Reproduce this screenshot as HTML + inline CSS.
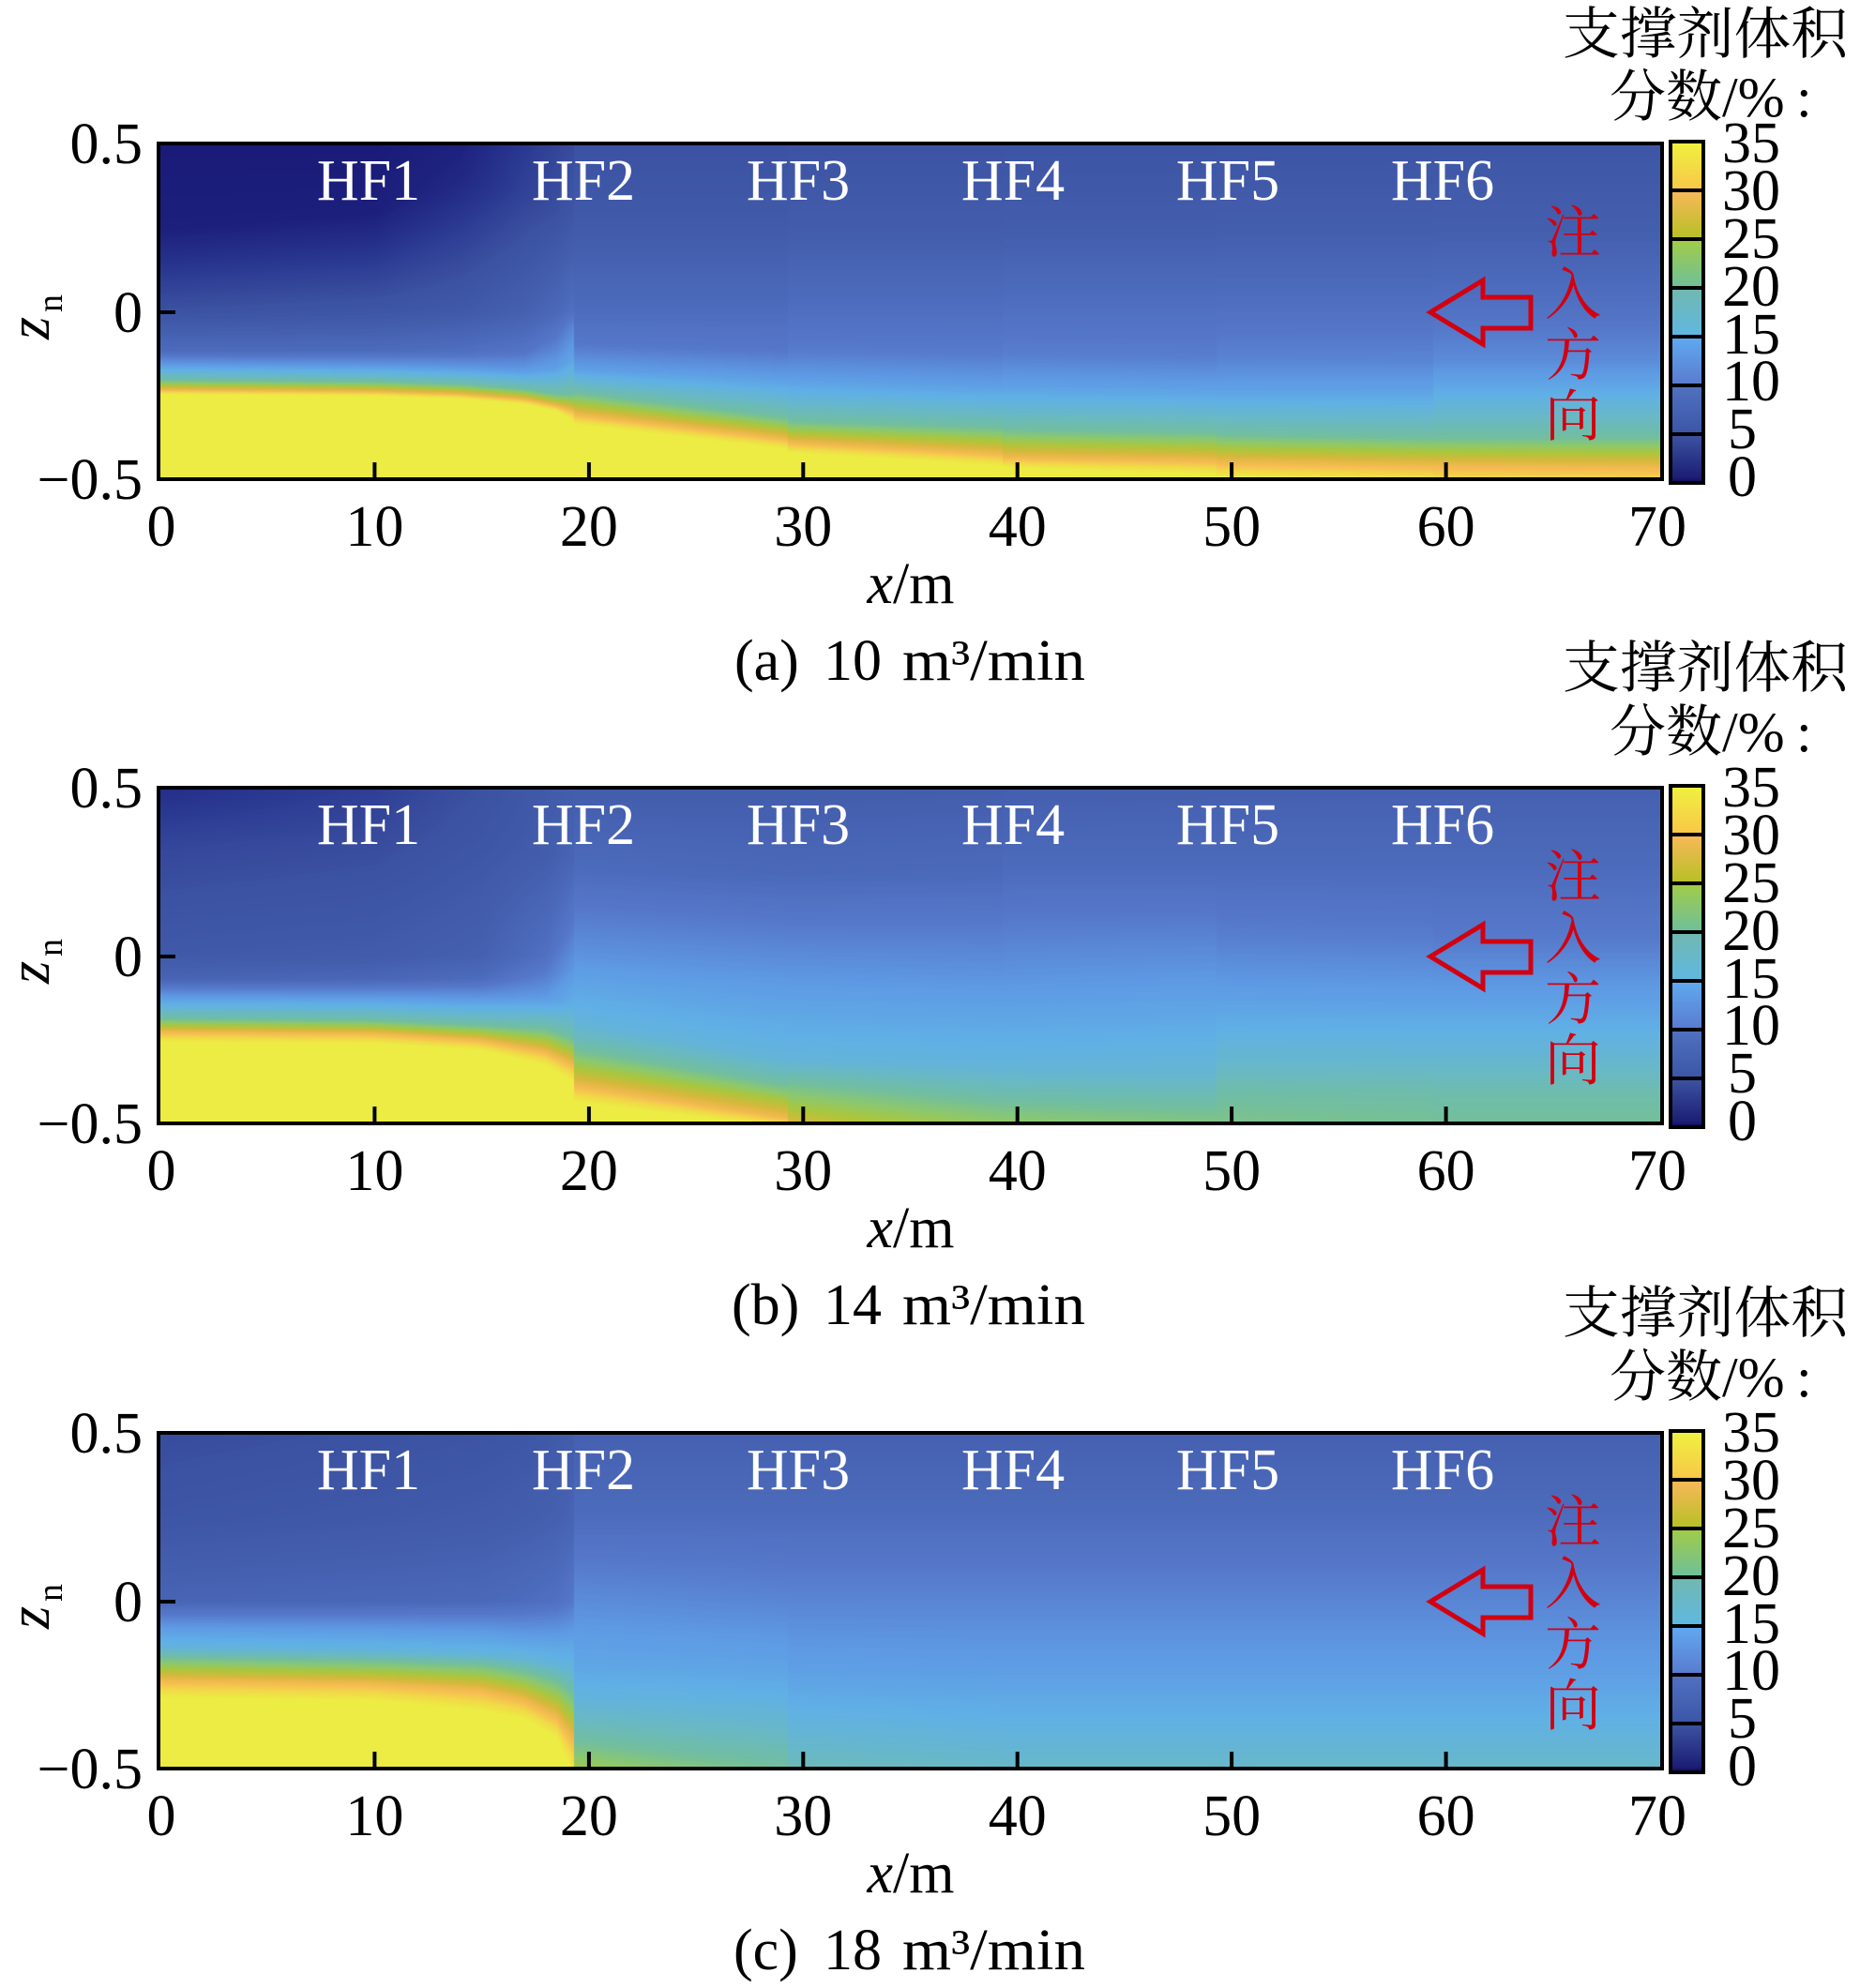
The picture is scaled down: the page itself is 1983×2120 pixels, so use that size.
<!DOCTYPE html>
<html>
<head>
<meta charset="utf-8">
<style>
html,body{margin:0;padding:0;background:#fff;}
body{width:1983px;height:2120px;position:relative;overflow:hidden;}
canvas.hm{position:absolute;left:171px;width:1599px;height:354px;
  background:linear-gradient(to bottom,#3c55a4 0%,#4a66b6 45%,#5e98e2 60%,#70bca0 75%,#ecec44 100%);}
svg{position:absolute;left:0;top:0;}
</style>
</head>
<body>
<canvas class="hm" id="c0" width="1599" height="354" style="top:155px"></canvas>
<canvas class="hm" id="c1" width="1599" height="354" style="top:842px"></canvas>
<canvas class="hm" id="c2" width="1599" height="354" style="top:1530px"></canvas>

<svg width="1983" height="2120" viewBox="0 0 1983 2120" xmlns="http://www.w3.org/2000/svg" font-family="'Liberation Serif','Noto Serif CJK SC',serif">
<defs>
  <linearGradient id="s0" x1="0" y1="1" x2="0" y2="0"><stop offset="0" stop-color="#120f62"/><stop offset="0.08" stop-color="#1c1e74"/><stop offset="1" stop-color="#3c52a0"/></linearGradient>
  <linearGradient id="s1" x1="0" y1="1" x2="0" y2="0"><stop offset="0" stop-color="#3c56a8"/><stop offset="1" stop-color="#5070c0"/></linearGradient>
  <linearGradient id="s2" x1="0" y1="1" x2="0" y2="0"><stop offset="0" stop-color="#5a7cd0"/><stop offset="1" stop-color="#60a8f0"/></linearGradient>
  <linearGradient id="s3" x1="0" y1="1" x2="0" y2="0"><stop offset="0" stop-color="#60b8e0"/><stop offset="1" stop-color="#70b8b0"/></linearGradient>
  <linearGradient id="s4" x1="0" y1="1" x2="0" y2="0"><stop offset="0" stop-color="#70c098"/><stop offset="1" stop-color="#a0cc48"/></linearGradient>
  <linearGradient id="s5" x1="0" y1="1" x2="0" y2="0"><stop offset="0" stop-color="#b8c028"/><stop offset="1" stop-color="#f8b858"/></linearGradient>
  <linearGradient id="s6" x1="0" y1="1" x2="0" y2="0"><stop offset="0" stop-color="#f8c848"/><stop offset="1" stop-color="#f0f040"/></linearGradient>
</defs>

<!-- ===== Panel A ===== -->
<g transform="translate(0,151)">
  <rect x="169" y="2" width="1603" height="358" fill="none" stroke="#000" stroke-width="4"/>
  <path d="M399.4 342V358M627.9 342V358M856.3 342V358M1084.7 342V358M1313.1 342V358M1541.6 342V358M171 182H187" stroke="#000" stroke-width="4"/>
  <g fill="#fff" font-size="62" text-anchor="middle">
    <text x="393" y="62">HF1</text><text x="622" y="62">HF2</text><text x="851" y="62">HF3</text>
    <text x="1080" y="62">HF4</text><text x="1309" y="62">HF5</text><text x="1538" y="62">HF6</text>
  </g>
  <polygon points="1525,182 1581,148 1581,166 1632,166 1632,199 1581,199 1581,216" fill="none" stroke="#d20010" stroke-width="5" stroke-linejoin="miter"/>
  <g fill="#d20010" font-size="60" text-anchor="middle" font-family="'Noto Serif CJK SC','Noto Serif CJK JP','Noto Serif CJK TC','Noto Sans CJK SC',serif">
    <text x="1677" y="118">注</text><text x="1677" y="184">入</text><text x="1677" y="249">方</text><text x="1677" y="314">向</text>
  </g>
  <g font-size="62" text-anchor="end">
    <text x="152" y="23">0.5</text><text x="152" y="203">0</text><text x="152" y="381">−0.5</text>
  </g>
  <g font-size="62" text-anchor="middle">
    <text x="172" y="431">0</text><text x="399.4" y="431">10</text><text x="627.9" y="431">20</text><text x="856.3" y="431">30</text>
    <text x="1084.7" y="431">40</text><text x="1313.1" y="431">50</text><text x="1541.6" y="431">60</text><text x="1767" y="431">70</text>
    <text x="971" y="492"><tspan font-style="italic">x</tspan>/m</text>
  </g>
  <text transform="translate(52,211) rotate(-90)" font-size="62" font-style="italic">z</text>
  <text transform="translate(66,182) rotate(-90)" font-size="38">n</text>
  <text x="783" y="574" font-size="62">(a)</text>
  <text x="878" y="574" font-size="62">10</text>
  <text x="962" y="574" font-size="62" textLength="195" lengthAdjust="spacingAndGlyphs">m³/min</text>
  <rect x="1779" y="-2" width="39" height="368" fill="#000"/>
  <rect x="1783" y="2" width="31" height="48" fill="url(#s6)"/>
  <rect x="1783" y="54" width="31" height="48" fill="url(#s5)"/>
  <rect x="1783" y="106" width="31" height="48" fill="url(#s4)"/>
  <rect x="1783" y="158" width="31" height="48" fill="url(#s3)"/>
  <rect x="1783" y="210" width="31" height="48" fill="url(#s2)"/>
  <rect x="1783" y="262" width="31" height="48" fill="url(#s1)"/>
  <rect x="1783" y="314" width="31" height="48" fill="url(#s0)"/>
  <g font-size="62">
    <text x="1836" y="22">35</text><text x="1836" y="73">30</text><text x="1836" y="124">25</text><text x="1836" y="175">20</text>
    <text x="1836" y="226">15</text><text x="1836" y="276">10</text><text x="1842" y="327">5</text><text x="1842" y="378">0</text>
  </g>
</g>
<text x="1666" y="57" font-size="60" textLength="304" lengthAdjust="spacingAndGlyphs" font-family="'Noto Serif CJK SC','Noto Serif CJK JP','Noto Serif CJK TC','Noto Sans CJK SC',serif">支撑剂体积</text>
<text x="1716" y="124" font-size="60" font-family="'Liberation Serif','Noto Serif CJK SC','Noto Serif CJK JP',serif">分数/%</text>
<text x="1915" y="124" font-size="60">:</text>

<!-- ===== Panel B ===== -->
<g transform="translate(0,838)">
  <rect x="169" y="2" width="1603" height="358" fill="none" stroke="#000" stroke-width="4"/>
  <path d="M399.4 342V358M627.9 342V358M856.3 342V358M1084.7 342V358M1313.1 342V358M1541.6 342V358M171 182H187" stroke="#000" stroke-width="4"/>
  <g fill="#fff" font-size="62" text-anchor="middle">
    <text x="393" y="62">HF1</text><text x="622" y="62">HF2</text><text x="851" y="62">HF3</text>
    <text x="1080" y="62">HF4</text><text x="1309" y="62">HF5</text><text x="1538" y="62">HF6</text>
  </g>
  <polygon points="1525,182 1581,148 1581,166 1632,166 1632,199 1581,199 1581,216" fill="none" stroke="#d20010" stroke-width="5" stroke-linejoin="miter"/>
  <g fill="#d20010" font-size="60" text-anchor="middle" font-family="'Noto Serif CJK SC','Noto Serif CJK JP','Noto Serif CJK TC','Noto Sans CJK SC',serif">
    <text x="1677" y="118">注</text><text x="1677" y="184">入</text><text x="1677" y="249">方</text><text x="1677" y="314">向</text>
  </g>
  <g font-size="62" text-anchor="end">
    <text x="152" y="23">0.5</text><text x="152" y="203">0</text><text x="152" y="381">−0.5</text>
  </g>
  <g font-size="62" text-anchor="middle">
    <text x="172" y="431">0</text><text x="399.4" y="431">10</text><text x="627.9" y="431">20</text><text x="856.3" y="431">30</text>
    <text x="1084.7" y="431">40</text><text x="1313.1" y="431">50</text><text x="1541.6" y="431">60</text><text x="1767" y="431">70</text>
    <text x="971" y="492"><tspan font-style="italic">x</tspan>/m</text>
  </g>
  <text transform="translate(52,211) rotate(-90)" font-size="62" font-style="italic">z</text>
  <text transform="translate(66,182) rotate(-90)" font-size="38">n</text>
  <text x="780" y="574" font-size="62">(b)</text>
  <text x="878" y="574" font-size="62">14</text>
  <text x="962" y="574" font-size="62" textLength="195" lengthAdjust="spacingAndGlyphs">m³/min</text>
  <rect x="1779" y="-2" width="39" height="368" fill="#000"/>
  <rect x="1783" y="2" width="31" height="48" fill="url(#s6)"/>
  <rect x="1783" y="54" width="31" height="48" fill="url(#s5)"/>
  <rect x="1783" y="106" width="31" height="48" fill="url(#s4)"/>
  <rect x="1783" y="158" width="31" height="48" fill="url(#s3)"/>
  <rect x="1783" y="210" width="31" height="48" fill="url(#s2)"/>
  <rect x="1783" y="262" width="31" height="48" fill="url(#s1)"/>
  <rect x="1783" y="314" width="31" height="48" fill="url(#s0)"/>
  <g font-size="62">
    <text x="1836" y="22">35</text><text x="1836" y="73">30</text><text x="1836" y="124">25</text><text x="1836" y="175">20</text>
    <text x="1836" y="226">15</text><text x="1836" y="276">10</text><text x="1842" y="327">5</text><text x="1842" y="378">0</text>
  </g>
</g>
<text x="1666" y="733" font-size="60" textLength="304" lengthAdjust="spacingAndGlyphs" font-family="'Noto Serif CJK SC','Noto Serif CJK JP','Noto Serif CJK TC','Noto Sans CJK SC',serif">支撑剂体积</text>
<text x="1716" y="801" font-size="60" font-family="'Liberation Serif','Noto Serif CJK SC','Noto Serif CJK JP',serif">分数/%</text>
<text x="1915" y="801" font-size="60">:</text>

<!-- ===== Panel C ===== -->
<g transform="translate(0,1526)">
  <rect x="169" y="2" width="1603" height="358" fill="none" stroke="#000" stroke-width="4"/>
  <path d="M399.4 342V358M627.9 342V358M856.3 342V358M1084.7 342V358M1313.1 342V358M1541.6 342V358M171 182H187" stroke="#000" stroke-width="4"/>
  <g fill="#fff" font-size="62" text-anchor="middle">
    <text x="393" y="62">HF1</text><text x="622" y="62">HF2</text><text x="851" y="62">HF3</text>
    <text x="1080" y="62">HF4</text><text x="1309" y="62">HF5</text><text x="1538" y="62">HF6</text>
  </g>
  <polygon points="1525,182 1581,148 1581,166 1632,166 1632,199 1581,199 1581,216" fill="none" stroke="#d20010" stroke-width="5" stroke-linejoin="miter"/>
  <g fill="#d20010" font-size="60" text-anchor="middle" font-family="'Noto Serif CJK SC','Noto Serif CJK JP','Noto Serif CJK TC','Noto Sans CJK SC',serif">
    <text x="1677" y="118">注</text><text x="1677" y="184">入</text><text x="1677" y="249">方</text><text x="1677" y="314">向</text>
  </g>
  <g font-size="62" text-anchor="end">
    <text x="152" y="23">0.5</text><text x="152" y="203">0</text><text x="152" y="381">−0.5</text>
  </g>
  <g font-size="62" text-anchor="middle">
    <text x="172" y="431">0</text><text x="399.4" y="431">10</text><text x="627.9" y="431">20</text><text x="856.3" y="431">30</text>
    <text x="1084.7" y="431">40</text><text x="1313.1" y="431">50</text><text x="1541.6" y="431">60</text><text x="1767" y="431">70</text>
    <text x="971" y="492"><tspan font-style="italic">x</tspan>/m</text>
  </g>
  <text transform="translate(52,211) rotate(-90)" font-size="62" font-style="italic">z</text>
  <text transform="translate(66,182) rotate(-90)" font-size="38">n</text>
  <text x="782" y="574" font-size="62">(c)</text>
  <text x="878" y="574" font-size="62">18</text>
  <text x="962" y="574" font-size="62" textLength="195" lengthAdjust="spacingAndGlyphs">m³/min</text>
  <rect x="1779" y="-2" width="39" height="368" fill="#000"/>
  <rect x="1783" y="2" width="31" height="48" fill="url(#s6)"/>
  <rect x="1783" y="54" width="31" height="48" fill="url(#s5)"/>
  <rect x="1783" y="106" width="31" height="48" fill="url(#s4)"/>
  <rect x="1783" y="158" width="31" height="48" fill="url(#s3)"/>
  <rect x="1783" y="210" width="31" height="48" fill="url(#s2)"/>
  <rect x="1783" y="262" width="31" height="48" fill="url(#s1)"/>
  <rect x="1783" y="314" width="31" height="48" fill="url(#s0)"/>
  <g font-size="62">
    <text x="1836" y="22">35</text><text x="1836" y="73">30</text><text x="1836" y="124">25</text><text x="1836" y="175">20</text>
    <text x="1836" y="226">15</text><text x="1836" y="276">10</text><text x="1842" y="327">5</text><text x="1842" y="378">0</text>
  </g>
</g>
<text x="1666" y="1421" font-size="60" textLength="304" lengthAdjust="spacingAndGlyphs" font-family="'Noto Serif CJK SC','Noto Serif CJK JP','Noto Serif CJK TC','Noto Sans CJK SC',serif">支撑剂体积</text>
<text x="1716" y="1489" font-size="60" font-family="'Liberation Serif','Noto Serif CJK SC','Noto Serif CJK JP',serif">分数/%</text>
<text x="1915" y="1489" font-size="60">:</text>
</svg>

<script>
(function(){
  var CM=[[0,24,22,116],[2.5,38,50,140],[5,60,82,162],[7.5,72,100,180],[10,86,120,202],[12.5,94,154,228],[15,96,176,230],[17.5,104,184,200],[20,114,190,160],[22.5,140,200,110],[25,172,198,60],[27.5,214,184,60],[30,246,186,82],[32.5,242,216,72],[35,236,236,68]];
  var LUT=[];
  for(var i=0;i<=350;i++){
    var v=i/10,k=0;
    while(k<CM.length-2 && v>CM[k+1][0])k++;
    var a=CM[k],b=CM[k+1],t=Math.min(1,Math.max(0,(v-a[0])/(b[0]-a[0])));
    LUT.push([a[1]+(b[1]-a[1])*t,a[2]+(b[2]-a[2])*t,a[3]+(b[3]-a[3])*t]);
  }
  function knotsAt(cols,x){
    if(x<=cols[0][0])return cols[0][1];
    for(var j=0;j<cols.length-1;j++){
      if(x<=cols[j+1][0]){
        var t=(x-cols[j][0])/(cols[j+1][0]-cols[j][0]),A=cols[j][1],B=cols[j+1][1],R=[];
        for(var q=0;q<A.length;q++)R.push(A[q]+(B[q]-A[q])*t);
        return R;
      }
    }
    return cols[cols.length-1][1];
  }
  function evalK(K,z){
    if(z>=K[0])return K[1];
    var n=K.length/2;
    for(var i=0;i<n-1;i++){
      var za=K[2*i],zb=K[2*i+2];
      if(z>=zb){var d=za-zb;var t=d>0?(za-z)/d:1;return K[2*i+1]+(K[2*i+3]-K[2*i+1])*t;}
    }
    return K[2*n-1];
  }
  var PA=[
    {x1:19.3,cols:[
      [0,[0.5,0.4,0.25,0.8,0.0,5,-0.12,8.5,-0.16,12.5,-0.207,20,-0.237,29.5,-0.25,35]],
      [10,[0.5,0.4,0.30,0.8,0.0,5.5,-0.12,8.5,-0.165,12.5,-0.212,20,-0.242,29.5,-0.255,35]],
      [14,[0.5,1.0,0.40,1.6,0.0,6,-0.12,8.8,-0.17,12.5,-0.22,20,-0.25,29.5,-0.263,35]],
      [17,[0.5,3.0,0.35,3.8,0.0,7,-0.12,9.5,-0.18,12.8,-0.235,20,-0.265,29.5,-0.28,35]],
      [18.5,[0.5,4.0,0.3,4.8,0.0,8,-0.08,10,-0.17,13,-0.25,20,-0.285,29.5,-0.30,35]],
      [19.3,[0.5,4.5,0.3,5.5,0.0,9,-0.04,11,-0.14,13.5,-0.25,20,-0.30,29.5,-0.33,35]]]},
    {x1:29.3,cols:[
      [19.3,[0.5,5,0.25,6.2,0.0,8.5,-0.1,10,-0.17,12.8,-0.245,20,-0.31,29.5,-0.34,35]],
      [29.3,[0.5,5,0.25,6.2,0.0,8.5,-0.12,10,-0.2,12.8,-0.32,20,-0.385,29.5,-0.415,35]]]},
    {x1:39.3,cols:[
      [29.3,[0.5,5.2,0.25,6.4,0.0,8.8,-0.12,10.3,-0.2,12.8,-0.33,20,-0.395,29.5,-0.425,35]],
      [39.3,[0.5,5.2,0.25,6.4,0.0,8.8,-0.13,10.3,-0.22,12.8,-0.35,20,-0.43,29.5,-0.465,35]]]},
    {x1:49.3,cols:[
      [39.3,[0.5,5.3,0.25,6.5,0.0,9,-0.13,10.5,-0.22,13,-0.355,20,-0.44,29.5,-0.47,35]],
      [49.3,[0.5,5.3,0.25,6.5,0.0,9,-0.14,10.5,-0.23,13,-0.365,20,-0.45,29.5,-0.49,35]]]},
    {x1:59.4,cols:[
      [49.3,[0.5,5.4,0.25,6.6,0.0,9.1,-0.14,10.8,-0.23,13,-0.37,20,-0.455,29.5,-0.5,35]],
      [59.4,[0.5,5.4,0.25,6.6,0.0,9.1,-0.15,11,-0.23,13,-0.38,20,-0.465,29.5,-0.52,35]]]},
    {x1:71,cols:[
      [59.4,[0.5,5.5,0.25,6.7,0.0,9.2,-0.15,11.5,-0.2,13,-0.38,20,-0.465,29.5,-0.53,35]],
      [70,[0.5,5.5,0.25,6.7,0.0,9.2,-0.15,11.5,-0.2,13,-0.38,20,-0.47,29.5,-0.54,35]]]}
  ];
  var PB=[
    {x1:19.3,cols:[
      [0,[0.5,2.2,0.34,4,0.0,6,-0.07,7.5,-0.124,12.5,-0.19,20,-0.23,29.5,-0.26,35]],
      [10,[0.5,3.5,0.34,4.5,0.0,6.3,-0.07,7.8,-0.125,12.5,-0.195,20,-0.235,29.5,-0.265,35]],
      [15,[0.5,5,0.34,5.5,0.0,7,-0.07,8.5,-0.13,12.5,-0.21,20,-0.255,29.5,-0.285,35]],
      [18,[0.5,6,0.3,6.5,0.0,9,-0.06,10.5,-0.124,12.5,-0.22,20,-0.29,29.5,-0.33,35]],
      [19.3,[0.5,6.5,0.3,7.5,0.1,10,-0.05,12.5,-0.15,15,-0.25,20,-0.33,29.5,-0.38,35]]]},
    {x1:29.3,cols:[
      [19.3,[0.5,6.5,0.25,8.5,0.0,12,-0.2,16,-0.28,20,-0.34,25,-0.39,29.5,-0.44,35]],
      [29.3,[0.5,6.5,0.25,8,-0.08,12.5,-0.31,16,-0.39,20,-0.44,25,-0.49,29.5,-0.52,35]]]},
    {x1:39.3,cols:[
      [29.3,[0.5,6.5,0.25,8,-0.08,12.5,-0.31,16,-0.38,20,-0.46,25,-0.53,29.5,-0.56,35]],
      [39.3,[0.5,6.7,0.25,8.2,-0.1,12.5,-0.33,16,-0.44,20,-0.55,25,-0.6,29.5,-0.65,35]]]},
    {x1:49.3,cols:[
      [39.3,[0.5,6.8,0.25,8.5,-0.1,12.5,-0.33,16,-0.44,20,-0.55,25,-0.6,29.5,-0.65,35]],
      [49.3,[0.5,6.9,0.25,8.5,-0.1,12.8,-0.35,16.5,-0.46,20,-0.6,25,-0.65,29.5,-0.7,35]]]},
    {x1:59.4,cols:[
      [49.3,[0.5,6.9,0.25,8.5,0.05,10.6,-0.12,13,-0.32,17,-0.41,19.5,-0.49,21,-0.7,27]],
      [59.4,[0.5,7,0.25,8.5,0.05,10.4,-0.13,13,-0.32,17,-0.42,19.5,-0.5,20.5,-0.7,26]]]},
    {x1:71,cols:[
      [59.4,[0.5,7,0.25,8.5,0.05,10.2,-0.13,13,-0.32,17,-0.42,19.3,-0.5,20.3,-0.7,26]],
      [70,[0.5,7,0.25,8.5,0.05,10.2,-0.13,13,-0.32,17,-0.42,19.3,-0.5,20.3,-0.7,26]]]}
  ];
  var cEnd=[0.5,7,0.25,8.5,0.0,11,-0.2,12.8,-0.35,15,-0.5,17.3,-0.6,21,-0.7,27];
  var PC=[
    {x1:19.3,cols:[
      [0,[0.5,4.5,0.24,5.5,0.0,7.5,-0.08,12.5,-0.14,16,-0.17,20,-0.24,29.5,-0.29,35]],
      [10,[0.5,5,0.24,6,0.0,7.8,-0.085,12.5,-0.15,16,-0.18,20,-0.25,29.5,-0.30,35]],
      [15,[0.5,5.3,0.24,6.3,0.0,8,-0.09,12.5,-0.16,16,-0.19,20,-0.27,29.5,-0.33,35]],
      [17,[0.5,5.6,0.24,6.6,0.0,8.5,-0.1,12.5,-0.17,16,-0.21,20,-0.3,29.5,-0.355,35]],
      [18.5,[0.5,6,0.24,7,0.0,9,-0.1,12.5,-0.19,16,-0.24,20,-0.35,29.5,-0.41,35]],
      [19.3,[0.5,6.5,0.24,7.5,0.0,10,-0.1,12.8,-0.2,16,-0.28,20,-0.42,29.5,-0.52,35]]]},
    {x1:29.3,cols:[
      [19.3,[0.5,7,0.25,8.5,0.0,11.5,-0.2,14,-0.3,16,-0.42,20,-0.5,24,-0.6,30]],
      [29.3,[0.5,7,0.25,8.5,0.0,11,-0.2,13.5,-0.33,16,-0.5,20,-0.6,24,-0.7,30]]]},
    {x1:39.3,cols:[
      [29.3,[0.5,7,0.25,8.5,0.0,11,-0.2,13,-0.35,15.5,-0.5,18.5,-0.6,22,-0.7,28]],
      [39.3,[0.5,7,0.25,8.5,0.0,11,-0.2,12.8,-0.35,15,-0.5,17.5,-0.6,21,-0.7,27]]]},
    {x1:71,cols:[[39.3,cEnd],[70,cEnd]]}
  ];
  function draw(id,P){
    var cv=document.getElementById(id);if(!cv||!cv.getContext)return;
    var ctx=cv.getContext('2d'),W=1599,H=354,img=ctx.createImageData(W,H),d=img.data;
    for(var i=0;i<W;i++){
      var x=(i+0.5)/W*70,r=0;
      while(r<P.length-1 && x>=P[r].x1)r++;
      var K=knotsAt(P[r].cols,x);
      for(var j=0;j<H;j++){
        var z=0.5-(j+0.5)/H;
        var v=evalK(K,z);
        var idx=Math.round(Math.min(35,Math.max(0,v))*10),c=LUT[idx],p=(j*W+i)*4;
        d[p]=c[0];d[p+1]=c[1];d[p+2]=c[2];d[p+3]=255;
      }
    }
    ctx.putImageData(img,0,0);
  }
  draw('c0',PA);draw('c1',PB);draw('c2',PC);
})();
</script>
</body>
</html>
